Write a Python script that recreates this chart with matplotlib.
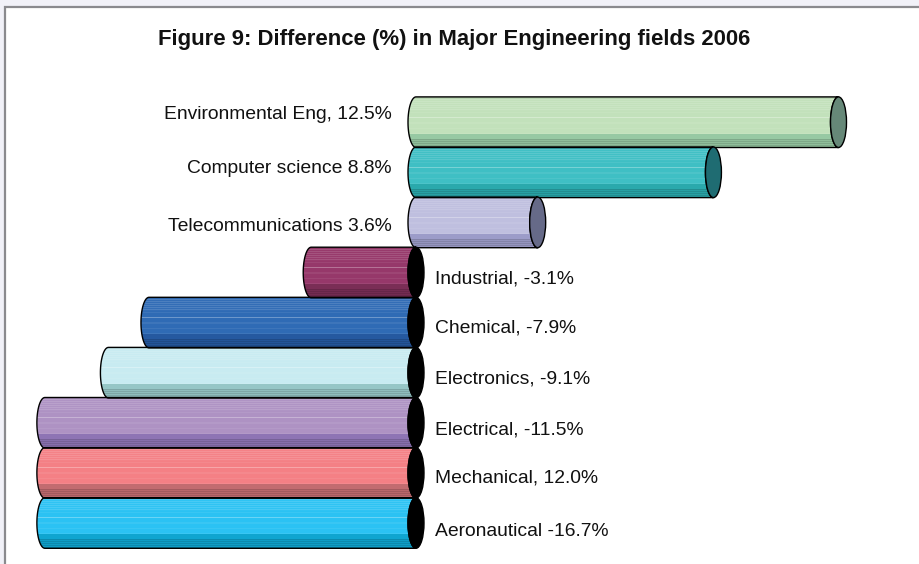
import numpy as np
import matplotlib
matplotlib.use('Agg')
import matplotlib.pyplot as plt
from matplotlib.colors import to_rgb
from matplotlib.patches import Ellipse, PathPatch, Rectangle
from matplotlib.path import Path

plt.rcParams['font.family'] = ['Liberation Sans', 'DejaVu Sans']

# bottom to top, same order as the chart's rows
labels = ['Aeronautical -16.7%', 'Mechanical, 12.0%', 'Electrical, -11.5%', 'Electronics, -9.1%',
          'Chemical, -7.9%', 'Industrial, -3.1%', 'Telecommunications 3.6%', 'Computer science 8.8%',
          'Environmental Eng, 12.5%']
values = [-16.7, -12.0, -11.5, -9.1, -7.9, -3.1, 3.6, 8.8, 12.5]
body_colors = ['#2BC2F3', '#F48085', '#AE92C3', '#C8EBF1', '#2F6BB5', '#96386A', '#BFBFDF', '#3FBFC4', '#C2E1BB']
dark_colors = ['#0FA5D0', '#C26C70', '#8E74B4', '#96C6C6', '#2559A0', '#7A2E56', '#9C9CC9', '#2AA9AC', '#97C9A3']
end_colors = ['black', 'black', 'black', 'black', 'black', 'black', '#666A88', '#1F6C72', '#668878']

# the value axis stops here, longer bars are cut off at it
axis_min = -10.98
px_per_unit = 33.8
px_per_row = 50.1
zero_px = 416
row0_px = 523
half_h = 0.505
half_w = 8 / px_per_unit
# label height relative to the row centre, in pixels (down is positive)
label_shift = [8.5, 5.5, 7.5, 6.5, 5.5, 6.5, 4, -4, -7.5]

W, H = 920, 564
fig = plt.figure(figsize=(W / 100, H / 100), dpi=100)
ax = fig.add_axes([0, 0, 1, 1])
ax.patch.set_alpha(0)

# page shading and frame, open at the right and bottom like the cropped original
fig.patch.set_facecolor('#F1F1F8')
fig.add_artist(Rectangle((5 / W, -0.02), 1, (H - 6.5) / H + 0.02, transform=fig.transFigure,
                         facecolor='white', edgecolor='#8A8A8E', linewidth=1.6, zorder=-1))


def stripes(base, dark):
    base, dark = np.array(to_rgb(base)), np.array(to_rgb(dark))
    white = np.ones(3)
    rows = []
    for i in range(50):
        if i < 2:
            c = base * 0.95
        elif i < 14:
            c = base + (white - base) * (0.14 if i % 2 == 0 else 0.02)
        elif i < 36:
            c = base + (white - base) * (0.07 if i % 5 == 0 else 0.0)
            if i == 20:
                c = base + (white - base) * 0.3
        elif i < 41:
            c = dark
        else:
            c = dark * (0.84 if i % 2 else 0.95)
        rows.append(c)
    return np.array(rows)[:, None, :]


def cylinder(v, y):
    t = np.linspace(np.pi / 2, 3 * np.pi / 2, 40)
    xs_left = min(v, 0) + half_w * np.cos(t)
    ys_left = y + half_h * np.sin(t)
    # right side ends on the far edge of the end ellipse
    xs_right = max(v, 0) + half_w * np.cos(t[::-1])
    ys_right = y + half_h * np.sin(t[::-1])
    verts = np.column_stack([np.r_[xs_left, xs_right], np.r_[ys_left, ys_right]])
    return Path(np.vstack([verts, verts[0]]), closed=True)


for i in range(len(values)):
    v = max(values[i], axis_min)
    p = PathPatch(cylinder(v, i), facecolor='none', edgecolor='black', linewidth=1.0, zorder=3 + i * 0.01)
    ax.add_patch(p)
    im = ax.imshow(stripes(body_colors[i], dark_colors[i]), aspect='auto', interpolation='nearest',
                   extent=[min(v, 0) - half_w, max(v, 0) + half_w, i - half_h, i + half_h],
                   zorder=2 + i * 0.01)
    im.set_clip_path(p)
    ax.add_patch(Ellipse((max(v, 0), i), 2 * half_w, 2 * half_h, facecolor=end_colors[i],
                         edgecolor='black', linewidth=1.0, zorder=4 + i * 0.01))
    if values[i] >= 0:
        ax.text(-24 / px_per_unit, i - label_shift[i] / px_per_row, labels[i], ha='right', va='center',
                fontsize=13.85, color='#111111', zorder=6)
    else:
        ax.text(19 / px_per_unit, i - label_shift[i] / px_per_row, labels[i], ha='left', va='center',
                fontsize=13.85, color='#111111', zorder=6)

ax.set_xlim(-zero_px / px_per_unit, (W - zero_px) / px_per_unit)
ax.set_ylim((row0_px - H) / px_per_row, row0_px / px_per_row)
ax.axis('off')

fig.text(454 / W, 1 - 39.5 / H, 'Figure 9: Difference (%) in Major Engineering fields 2006', ha='center',
         va='center', fontsize=15.9, fontweight='bold', color='#111111')

fig.savefig('out.png', dpi=100, facecolor=fig.get_facecolor())
